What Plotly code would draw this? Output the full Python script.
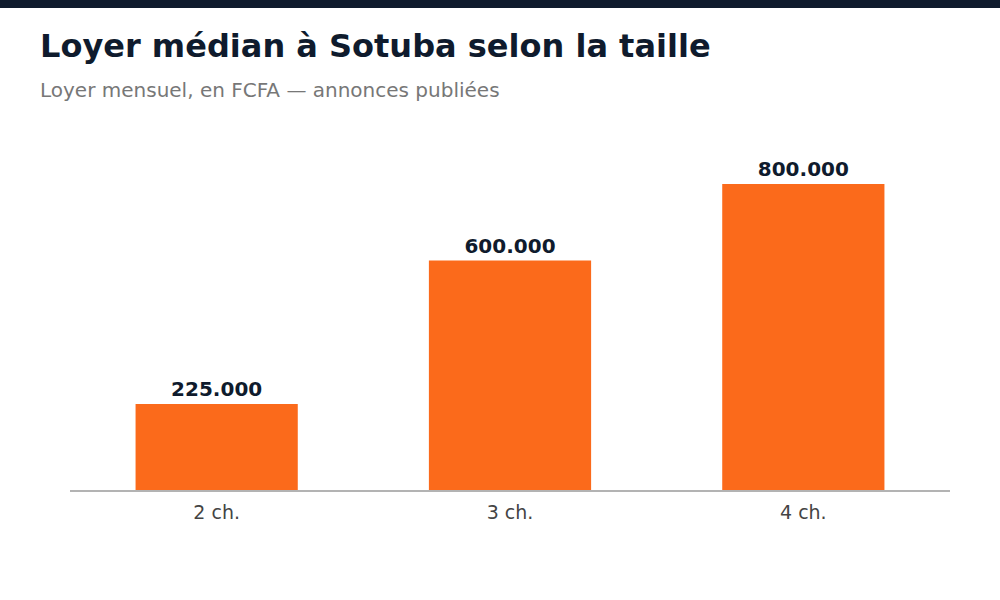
import plotly.graph_objects as go

categories = ["2 ch.", "3 ch.", "4 ch."]
loyer_median = [225000, 600000, 800000]
labels = [f"{v:,}".replace(",", ".") for v in loyer_median]

fig = go.Figure(go.Bar(
    x=categories, y=loyer_median,
    marker=dict(color="#fb6a1b", line=dict(width=0)),
    text=labels, textposition="outside",
    textfont=dict(family="DejaVu Sans", size=20, color="#0f1b2d", weight="bold"),
    cliponaxis=False, hoverinfo="skip",
))

fig.update_layout(
    width=1000, height=600,
    margin=dict(l=70, r=50, t=130, b=110),
    paper_bgcolor="white", plot_bgcolor="white",
    bargap=0.447, showlegend=False,
    font=dict(family="DejaVu Sans"),
    xaxis=dict(showline=True, linecolor="#b3b3b3", linewidth=2, ticks="outside",
               ticklen=4, tickcolor="rgba(0,0,0,0)",
               tickfont=dict(size=19, color="#444444"), showgrid=False, fixedrange=True),
    yaxis=dict(range=[0, 800000 * 360 / 306], visible=False, showgrid=False, zeroline=False, fixedrange=True),
    shapes=[dict(type="rect", xref="paper", yref="paper",
                 x0=-70 / 880, x1=1 + 50 / 880, y0=1 + 122 / 360, y1=1 + 130 / 360,
                 line=dict(width=0), fillcolor="#0f1b2d")],
    annotations=[
        dict(text="<b>Loyer médian à Sotuba selon la taille</b>", xref="paper", yref="paper",
             x=-32 / 880, y=1 + 84 / 360, xanchor="left", yanchor="middle", showarrow=False,
             font=dict(size=32, color="#0f1b2d", family="DejaVu Sans")),
        dict(text="Loyer mensuel, en FCFA — annonces publiées", xref="paper", yref="paper",
             x=-32 / 880, y=1 + 40 / 360, xanchor="left", yanchor="middle", showarrow=False,
             font=dict(size=20, color="#777777", family="DejaVu Sans")),
    ],
)

fig.write_html("out.html")
